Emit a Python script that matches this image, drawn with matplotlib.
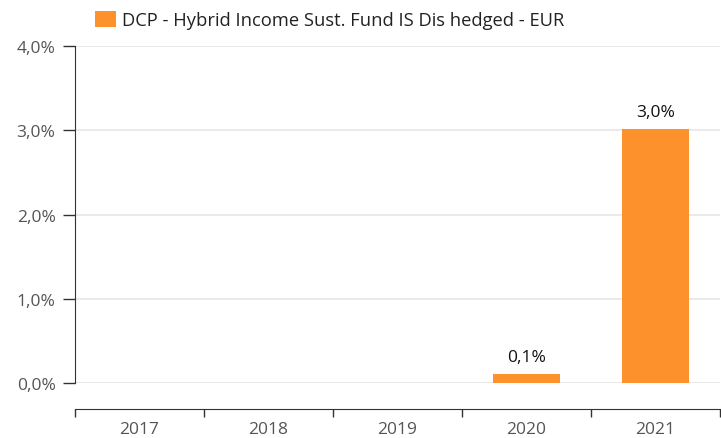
import matplotlib
matplotlib.use("Agg")
import matplotlib.pyplot as plt
from matplotlib.ticker import FuncFormatter, FixedLocator
from matplotlib.patches import Patch

years = ["2017", "2018", "2019", "2020", "2021"]
returns = [None, None, None, 0.11, 3.02]
labels = ["", "", "", "0,1%", "3,0%"]
series_name = "DCP - Hybrid Income Sust. Fund IS Dis hedged - EUR"

ORANGE = "#fd922c"
TEXT = "#555555"
plt.rcParams["font.family"] = ["Open Sans", "DejaVu Sans"]

fig = plt.figure(figsize=(7.21, 4.39), dpi=100)
ax = fig.add_axes([75 / 721, 1 - 384 / 439, 645 / 721, 337 / 439])

xs = list(range(len(years)))
for x, v, lab in zip(xs, returns, labels):
    if v is None:
        continue
    ax.bar(x, v, width=0.52, color=ORANGE, zorder=3)
    ax.text(x, v + 0.1, lab, ha="center", va="bottom", fontsize=12.5, color="#111111", zorder=4)

ax.set_xlim(-0.5, len(years) - 0.5)
ax.set_ylim(0, 4)
ax.set_yticks([0, 1, 2, 3, 4])
ax.yaxis.set_major_formatter(FuncFormatter(lambda v, p: f"{v:.1f}%".replace(".", ",")))
ax.grid(axis="y", color="#e6e6e6", linewidth=1.2, zorder=0)
ax.set_axisbelow(True)

ax.set_xticks(xs)
ax.set_xticklabels(years)
ax.xaxis.set_minor_locator(FixedLocator([x - 0.5 for x in range(len(years) + 1)]))
ax.tick_params(axis="x", which="major", length=0, pad=8.5, labelsize=12.5, labelcolor=TEXT)
ax.tick_params(axis="x", which="minor", length=6, width=1, color="#333333", direction="out")
ax.tick_params(axis="y", length=9, width=1, color="#333333", labelsize=12.5, labelcolor=TEXT, pad=5)

for s in ["top", "right"]:
    ax.spines[s].set_visible(False)
ax.spines["left"].set_color("#333333")
ax.spines["bottom"].set_color("#333333")
ax.spines["bottom"].set_position(("outward", 19))

handle = Patch(facecolor=ORANGE, edgecolor="none")
fig.legend([handle], [series_name], loc="center left", bbox_to_anchor=(78 / 721, 1 - 21 / 439),
           frameon=False, fontsize=13.2, handlelength=1.15, handleheight=1.0, handletextpad=0.35,
           labelcolor="#222222")

fig.savefig("out.png", dpi=100)
